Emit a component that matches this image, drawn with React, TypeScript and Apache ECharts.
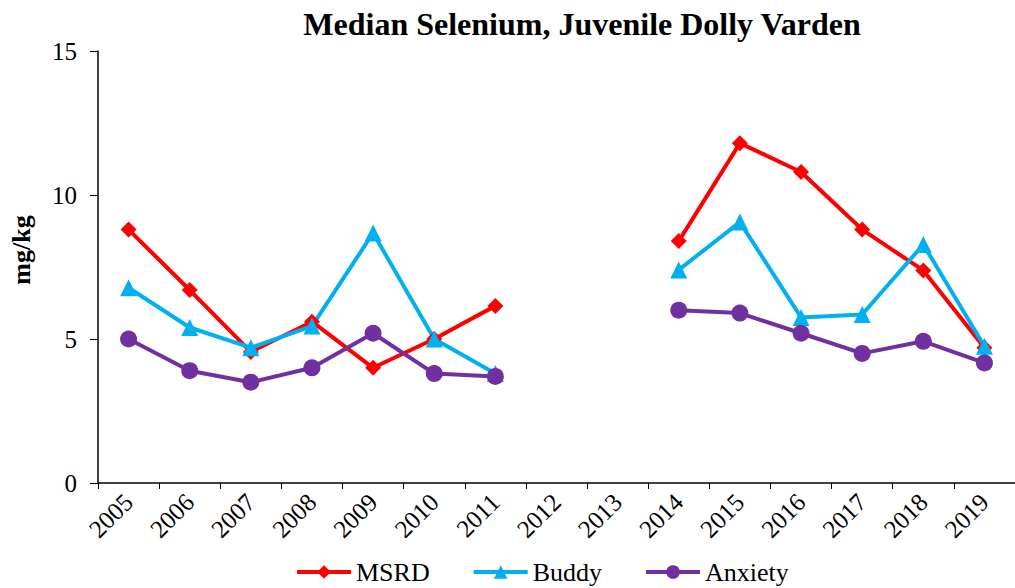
import React, { useEffect, useRef } from "react";
import * as echarts from "echarts";

const years = ["2005","2006","2007","2008","2009","2010","2011","2012","2013","2014","2015","2016","2017","2018","2019"];
const msrd = [8.8, 6.7, 4.55, 5.6, 4.0, 5.0, 6.15, null, null, 8.4, 11.8, 10.8, 8.8, 7.38, 4.7];
const buddy = [6.78, 5.4, 4.7, 5.45, 8.68, 5.0, 3.8, null, null, 7.4, 9.06, 5.75, 5.85, 8.28, 4.75];
const anxiety = [5.0, 3.9, 3.5, 4.0, 5.2, 3.8, 3.7, null, null, 6.0, 5.9, 5.2, 4.5, 4.92, 4.17];

const FONT = "'Liberation Serif', 'Times New Roman', serif";

export default function App() {
  const ref = useRef<HTMLDivElement>(null);
  useEffect(() => {
    const chart = echarts.init(ref.current!, null, { renderer: "svg" });
    const mk = (name: string, data: any[], color: string, symbol: string, size: number) => ({
      name,
      type: "line",
      data,
      connectNulls: false,
      symbol,
      symbolSize: size,
      lineStyle: { color, width: 4 },
      itemStyle: { color },
    });
    chart.setOption({
      animation: false,
      textStyle: { fontFamily: FONT },
      title: {
        text: "Median Selenium, Juvenile Dolly Varden",
        left: 577,
        textAlign: "center",
        top: 3,
        textStyle: { fontFamily: FONT, fontWeight: "bold", fontSize: 32, color: "#000" },
      },
      legend: {
        bottom: -2,
        left: 290,
        itemWidth: 54,
        itemHeight: 17,
        itemGap: 42,
        lineStyle: { width: 4 },
        textStyle: { fontFamily: FONT, fontSize: 26, color: "#000" },
        data: ["MSRD", "Buddy", "Anxiety"],
      },
      grid: { left: 97, width: 923.5, top: 51, bottom: 105 },
      xAxis: {
        type: "category",
        data: years,
        boundaryGap: true,
        axisLine: { lineStyle: { color: "#000", width: 1.5 } },
        axisTick: { show: true, alignWithLabel: false, length: 6, lineStyle: { color: "#000" } },
        axisLabel: { rotate: 45, fontSize: 25, color: "#000", fontFamily: FONT, margin: 15, interval: 0 },
        splitLine: { show: false },
      },
      yAxis: {
        type: "value",
        min: 0,
        max: 15,
        interval: 5,
        name: "mg/kg",
        nameLocation: "middle",
        nameGap: 64,
        nameRotate: 90,
        nameTextStyle: { fontFamily: FONT, fontWeight: "bold", fontSize: 26, color: "#000", padding: [0, 0, 0, 34] },
        axisLine: { show: true, lineStyle: { color: "#000", width: 1.5 } },
        axisTick: { show: true, length: 8, lineStyle: { color: "#000" } },
        axisLabel: { fontSize: 25, color: "#000", fontFamily: FONT, margin: 21 },
        splitLine: { show: false },
      },
      series: [
        mk("MSRD", msrd, "#FF0000", "diamond", 16),
        mk("Buddy", buddy, "#00B0F0", "triangle", 17),
        mk("Anxiety", anxiety, "#7030A0", "circle", 17),
      ],
    });
    return () => chart.dispose();
  }, []);
  return <div ref={ref} style={{ width: 1015, height: 588, position: "absolute", left: 0, top: 0 }} />;
}
